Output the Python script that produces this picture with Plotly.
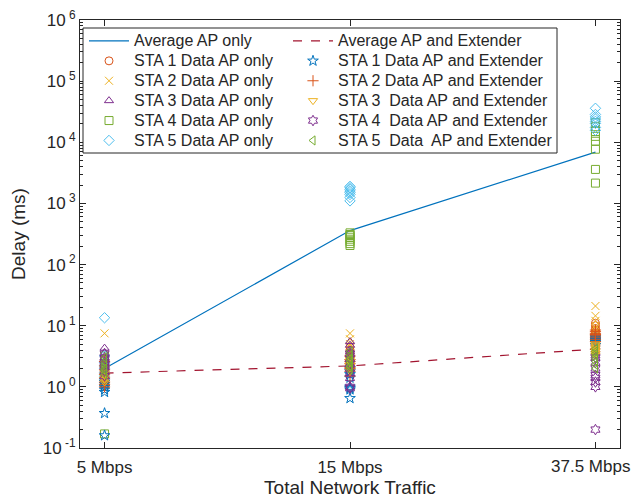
import plotly.graph_objects as go

# Traffic load categories on the x axis
categories = ["5 Mbps", "15 Mbps", "37.5 Mbps"]
cat_pos = [1, 2, 3]

# Mean delay (ms) per traffic load
avg_ap_only = [2.0, 360, 6900]
avg_ap_ext = [1.68, 2.2, 4.15]

# Per-station delay samples (ms), one list per traffic load
sta1_ap = [[1.0, 1.1, 1.3, 1.5, 1.8, 2.1, 1.2, 1.6],
           [3.0, 3.5, 4.0, 2.5, 2.0, 4.5, 3.2, 2.8],
           [11, 10, 9, 8.5, 8, 7.5, 7, 6.5]]
sta2_ap = [[7.5, 2.8, 2.2, 1.9, 1.6, 1.4, 1.2, 2.5],
           [7.5, 6.0, 5.0, 4.2, 3.5, 3.0, 2.6, 4.6],
           [21, 14.5, 12, 10, 9, 8, 7, 6]]
sta3_ap = [[4.3, 3.6, 3.0, 2.6, 2.2, 1.9, 1.7, 2.4],
           [5.5, 4.8, 4.0, 3.4, 2.9, 2.5, 2.2, 3.7],
           [6, 5.5, 5, 4.5, 4, 3.6, 3.2, 5.2]]
sta4_ap = [[0.17, 1.3, 1.6, 2.0, 2.4, 2.8, 3.2, 1.8],
           [330, 300, 280, 260, 240, 220, 205, 310],
           [21000, 10400, 7700, 3600, 2150, 15000, 18000, 12500]]
sta5_ap = [[13.5, 3.2, 2.5, 2.0, 1.7, 1.5, 1.3, 2.2],
           [1900, 1800, 1700, 1600, 1500, 1400, 1250, 1100],
           [36000, 28500, 24000, 20400, 17500, 15700, 22000, 26000]]

sta1_ext = [[0.16, 0.37, 0.82, 0.9, 1.0, 1.1, 1.3, 1.2],
            [0.65, 0.9, 1.0, 1.6, 1.8, 2.0, 1.4, 0.95],
            [6.5, 6.0, 5.6, 5.2, 4.8, 5.4, 5.8, 6.2]]
sta2_ext = [[1.0, 1.2, 1.4, 1.6, 1.9, 2.2, 2.6, 1.1],
            [1.5, 1.8, 2.1, 2.4, 2.8, 3.2, 2.0, 2.6],
            [8.5, 7.5, 7.0, 6.5, 6.0, 5.5, 8.0, 7.2]]
sta3_ext = [[1.2, 1.3, 1.5, 1.7, 1.4, 1.6, 1.9, 1.35],
            [1.8, 2.0, 2.3, 2.6, 3.0, 2.2, 2.5, 2.8],
            [4.5, 4.2, 4.0, 3.8, 3.5, 3.3, 4.8, 5.0]]
sta4_ext = [[1.5, 1.8, 2.1, 2.5, 3.0, 3.5, 2.3, 2.8],
            [0.95, 1.0, 1.7, 2.0, 2.4, 2.9, 3.5, 1.4],
            [0.2, 1.0, 1.2, 1.55, 1.4, 2.0, 2.5, 3.0]]
sta5_ext = [[1.6, 1.9, 2.2, 2.6, 2.0, 1.8, 2.4, 3.0],
            [1.9, 2.2, 2.5, 2.9, 3.3, 2.1, 2.7, 3.8],
            [2.0, 2.3, 2.6, 2.9, 3.2, 3.5, 3.8, 4.2]]

ytick_vals = [0.1, 1, 10, 100, 1e3, 1e4, 1e5, 1e6]
ytick_text = ["10<sup> -1</sup>", "10<sup> 0</sup>", "10<sup> 1</sup>", "10<sup> 2</sup>",
              "10<sup> 3</sup>", "10<sup> 4</sup>", "10<sup> 5</sup>", "10<sup> 6</sup>"]

BLUE, ORANGE, YELLOW = "#0072BD", "#D95319", "#EDB120"
PURPLE, GREEN, CYAN, RED = "#7E2F8E", "#77AC30", "#4DBEEE", "#A2142F"
FONT = "Liberation Sans, Arial, Helvetica, sans-serif"
INK = "#262626"

# Pixel geometry of the plotting area (for the legend frame)
W, H = 633, 498
ML, MR, MT, MB = 80, 13, 20, 50
PW, PH = W - ML - MR, H - MT - MB


def px_x(p):
    return (p - ML) / PW


def px_y(p):
    return 1 - (p - MT) / PH


def label(text):
    # entry text drawn at 16px while rows are spaced by the legend's smaller base size
    return f'<span style="font-size:16px">{text}</span>'


def flatten(series):
    xs, ys = [], []
    for pos, vals in zip(cat_pos, series):
        xs += [pos] * len(vals)
        ys += vals
    return xs, ys


def scatter(name, series, symbol, color, legend):
    xs, ys = flatten(series)
    return go.Scatter(x=xs, y=ys, mode="markers", name=label(name), legend=legend,
                      marker=dict(symbol=symbol, size=8, color=color,
                                  line=dict(color=color, width=1)))


# the last category label is placed as an annotation, nudged left to stay inside the page
tick_labels = categories[:-1] + [""]

fig = go.Figure()
fig.add_trace(go.Scatter(x=cat_pos, y=avg_ap_only, mode="lines", name=label("Average AP only"),
                         legend="legend", line=dict(color=BLUE, width=1.2)))
fig.add_trace(scatter("STA 1 Data AP only", sta1_ap, "circle-open", ORANGE, "legend"))
fig.add_trace(scatter("STA 2 Data AP only", sta2_ap, "x-thin-open", YELLOW, "legend"))
fig.add_trace(scatter("STA 3 Data AP only", sta3_ap, "triangle-up-open", PURPLE, "legend"))
fig.add_trace(scatter("STA 4 Data AP only", sta4_ap, "square-open", GREEN, "legend"))
fig.add_trace(scatter("STA 5 Data AP only", sta5_ap, "diamond-open", CYAN, "legend"))
fig.add_trace(go.Scatter(x=cat_pos, y=avg_ap_ext, mode="lines", name=label("Average AP and Extender"),
                         legend="legend2", line=dict(color=RED, width=1.2, dash="dash")))
fig.add_trace(scatter("STA 1 Data AP and Extender", sta1_ext, "star-open", BLUE, "legend2"))
fig.add_trace(scatter("STA 2 Data AP and Extender", sta2_ext, "cross-thin-open", ORANGE, "legend2"))
fig.add_trace(scatter("STA 3  Data AP and Extender", sta3_ext, "triangle-down-open", YELLOW, "legend2"))
fig.add_trace(scatter("STA 4  Data AP and Extender", sta4_ext, "hexagram-open", PURPLE, "legend2"))
fig.add_trace(scatter("STA 5  Data  AP and Extender", sta5_ext, "triangle-left-open", GREEN, "legend2"))

legend_common = dict(orientation="v", yanchor="top", xanchor="left", itemwidth=40,
                     bgcolor="rgba(0,0,0,0)", borderwidth=0, tracegroupgap=0,
                     font=dict(family=FONT, size=13, color=INK))

fig.update_layout(
    width=W, height=H,
    margin=dict(l=ML, r=MR, t=MT, b=MB, autoexpand=False),
    paper_bgcolor="white", plot_bgcolor="white",
    font=dict(family=FONT, color=INK, size=17),
    showlegend=True,
    legend=dict(x=px_x(84), y=px_y(26), **legend_common),
    legend2=dict(x=px_x(288), y=px_y(26), **legend_common),
    shapes=[dict(type="rect", xref="paper", yref="paper", layer="above",
                 x0=px_x(83), x1=px_x(557), y0=px_y(153), y1=px_y(28),
                 line=dict(color=INK, width=1), fillcolor="white")],
    annotations=[dict(text=categories[-1], x=cat_pos[-1], xref="x", y=0, yref="paper",
                      xanchor="center", yanchor="top", xshift=-5, yshift=-7,
                      showarrow=False, font=dict(family=FONT, size=17, color=INK))],
    xaxis=dict(range=[0.9, 3.1], tickvals=cat_pos, ticktext=tick_labels, automargin=False,
               ticks="inside", ticklen=6, tickcolor=INK, showgrid=False, zeroline=False,
               showline=True, linecolor=INK, linewidth=1, mirror="ticks",
               ticklabelstandoff=4,
               title=dict(text="Total Network Traffic", font=dict(size=19), standoff=12),
               tickfont=dict(size=17)),
    yaxis=dict(type="log", range=[-1, 6], tickvals=ytick_vals, ticktext=ytick_text,
               automargin=False,
               ticks="inside", ticklen=6, tickcolor=INK, showgrid=False, zeroline=False,
               showline=True, linecolor=INK, linewidth=1, mirror="ticks",
               minor=dict(ticks="inside", ticklen=3, tickcolor=INK,
                          tickvals=[m * 10 ** e for e in range(-1, 6) for m in range(2, 10)]),
               title=dict(text="Delay (ms)", font=dict(size=19), standoff=12),
               tickfont=dict(size=17)),
)

fig.write_html("out.html")
